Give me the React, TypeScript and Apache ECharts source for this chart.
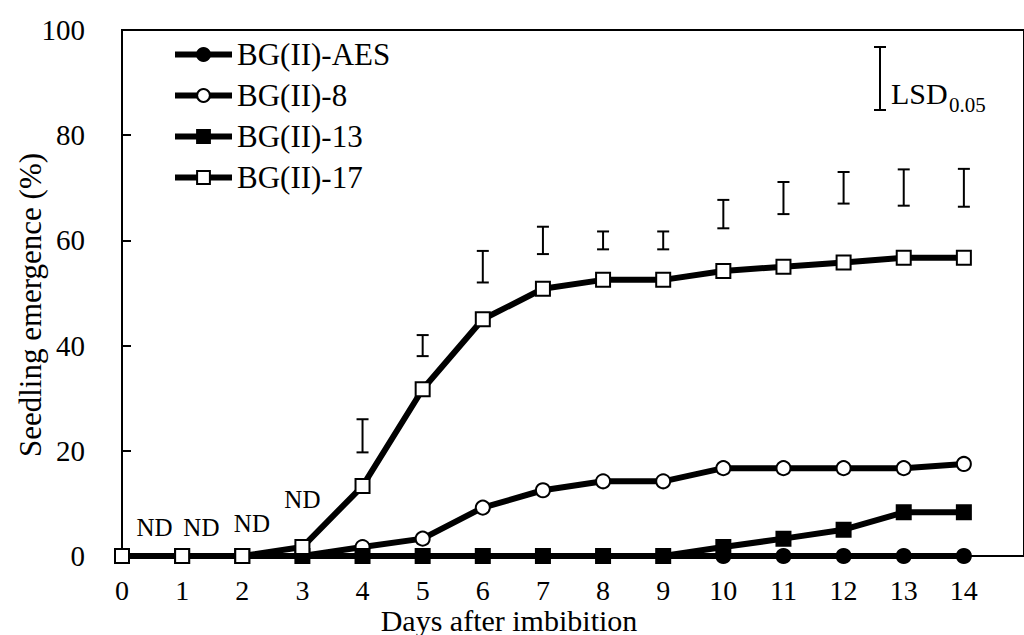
import React, { useEffect, useRef } from "react";
import * as echarts from "echarts";

const days = [0, 1, 2, 3, 4, 5, 6, 7, 8, 9, 10, 11, 12, 13, 14];
const seriesNames = ["BG(II)-AES", "BG(II)-8", "BG(II)-13", "BG(II)-17"];
const aesValues = [0, 0, 0, 0, 0, 0, 0, 0, 0, 0, 0, 0, 0, 0, 0];
const bg8Values = [0, 0, 0, 0, 1.7, 3.3, 9.2, 12.5, 14.2, 14.2, 16.7, 16.7, 16.7, 16.7, 17.5];
const bg13Values = [0, 0, 0, 0, 0, 0, 0, 0, 0, 0, 1.7, 3.3, 5.0, 8.3, 8.3];
const bg17Values = [0, 0, 0, 1.7, 13.3, 31.7, 45.0, 50.8, 52.5, 52.5, 54.2, 55.0, 55.8, 56.7, 56.7];

const lsdDays = [4, 5, 6, 7, 8, 9, 10, 11, 12, 13, 14];
const lsdLow = [19.7, 38.0, 52.0, 57.4, 58.3, 58.3, 62.3, 65.0, 67.0, 66.6, 66.4];
const lsdHigh = [26.0, 42.0, 58.0, 62.6, 61.7, 61.7, 67.7, 71.1, 73.0, 73.5, 73.6];

const ndX = [0.54, 1.32, 2.16, 3.0];
const ndY = [5.5, 5.5, 6.1, 10.8];

const yTicks = [0, 20, 40, 60, 80, 100];

const FONT = "Liberation Serif";

export default function App() {
  const ref = useRef<HTMLDivElement>(null);
  useEffect(() => {
    if (!ref.current) return;
    const chart = echarts.init(ref.current, undefined, { renderer: "svg" });
    const markers = ["circle", "circle", "rect", "rect"];
    const fills = ["#000", "#fff", "#000", "#fff"];
    const vals = [aesValues, bg8Values, bg13Values, bg17Values];
    const lineSeries = seriesNames.map((name, i) => ({
      name,
      type: "line",
      data: days.map((d, j) => [d, vals[i][j]]),
      symbol: markers[i],
      symbolSize: 14,
      showAllSymbol: true,
      color: "#000",
      lineStyle: { color: "#000", width: 6 },
      itemStyle: { color: fills[i], borderColor: "#000", borderWidth: 2 },
      z: 3 + i,
    }));
    chart.setOption({
      animation: false,
      backgroundColor: "#fff",
      textStyle: { fontFamily: FONT },
      grid: { left: 122, top: 30, width: 909, height: 526, show: true, borderColor: "#000", borderWidth: 2, backgroundColor: "transparent" },
      legend: {
        left: 172,
        top: 39,
        padding: 0,
        orient: "vertical",
        itemWidth: 57,
        itemHeight: 16,
        itemGap: 10,
        data: seriesNames,
        lineStyle: { width: 6, color: "#000" },
        textStyle: { fontFamily: FONT, fontSize: 31, color: "#000" },
      },
      xAxis: {
        type: "value",
        min: 0,
        max: 15,
        interval: 1,
        axisLine: { show: true, lineStyle: { color: "#000", width: 1.5 } },
        axisTick: { show: false },
        splitLine: { show: false },
        axisLabel: {
          showMaxLabel: false,
          fontFamily: FONT,
          fontSize: 28,
          lineHeight: 24,
          color: "#000",
          margin: 22,
        },
      },
      yAxis: {
        type: "value",
        min: yTicks[0],
        max: yTicks[yTicks.length - 1],
        interval: 20,
        axisLine: { show: true, lineStyle: { color: "#000", width: 2 } },
        axisTick: { show: true, inside: true, length: 9, lineStyle: { color: "#000", width: 2 } },
        splitLine: { show: false },
        axisLabel: { fontFamily: FONT, fontSize: 29, color: "#000", margin: 37 },
      },
      graphic: [
        {
          type: "text",
          x: 30,
          y: 305,
          rotation: Math.PI / 2,
          style: {
            text: "Seedling emergence (%)",
            fontFamily: FONT,
            fontSize: 31,
            fill: "#000",
            align: "center",
            verticalAlign: "middle",
          },
        },
        {
          type: "text",
          x: 509,
          y: 620,
          style: {
            text: "Days after imbibition",
            fontFamily: FONT,
            fontSize: 30,
            lineHeight: 24,
            fill: "#000",
            align: "center",
            verticalAlign: "middle",
          },
        },
        { type: "line", shape: { x1: 880, y1: 47, x2: 880, y2: 110 }, style: { stroke: "#000", lineWidth: 2 } },
        { type: "line", shape: { x1: 874, y1: 47, x2: 886, y2: 47 }, style: { stroke: "#000", lineWidth: 2 } },
        { type: "line", shape: { x1: 874, y1: 110, x2: 886, y2: 110 }, style: { stroke: "#000", lineWidth: 2 } },
        {
          type: "text",
          x: 891,
          y: 108,
          style: { text: "LSD", fontFamily: FONT, fontSize: 30, fill: "#000", align: "left", verticalAlign: "bottom" },
        },
        {
          type: "text",
          x: 949,
          y: 115,
          style: { text: "0.05", fontFamily: FONT, fontSize: 21, fill: "#000", align: "left", verticalAlign: "bottom" },
        },
      ],
      series: [
        ...lineSeries,
        {
          type: "custom",
          name: "LSD",
          data: lsdDays.map((d, i) => [d, lsdLow[i], lsdHigh[i]]),
          z: 10,
          renderItem: (params: any, api: any) => {
            const x = api.value(0);
            const lo = api.coord([x, api.value(1)]);
            const hi = api.coord([x, api.value(2)]);
            const w = 6;
            const st = { stroke: "#000", lineWidth: 2 };
            return {
              type: "group",
              children: [
                { type: "line", shape: { x1: lo[0], y1: lo[1], x2: hi[0], y2: hi[1] }, style: st },
                { type: "line", shape: { x1: lo[0] - w, y1: lo[1], x2: lo[0] + w, y2: lo[1] }, style: st },
                { type: "line", shape: { x1: hi[0] - w, y1: hi[1], x2: hi[0] + w, y2: hi[1] }, style: st },
              ],
            };
          },
        },
        {
          type: "custom",
          name: "ND",
          data: ndX.map((x, i) => [x, ndY[i]]),
          z: 10,
          renderItem: (params: any, api: any) => {
            const p = api.coord([api.value(0), api.value(1)]);
            return {
              type: "text",
              x: p[0],
              y: p[1],
              style: {
                text: "ND",
                fontFamily: FONT,
                fontSize: 25,
                fill: "#000",
                align: "center",
                verticalAlign: "middle",
              },
            };
          },
        },
      ],
    });
    return () => chart.dispose();
  }, []);
  return <div ref={ref} style={{ position: "fixed", left: 0, top: 0, width: 1024, height: 635 }} />;
}
